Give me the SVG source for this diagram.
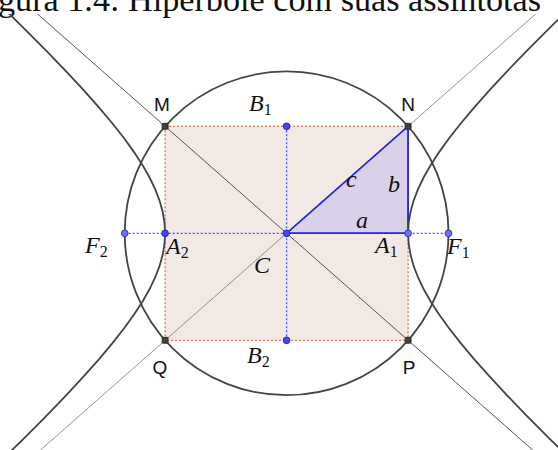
<svg xmlns="http://www.w3.org/2000/svg" xmlns:xlink="http://www.w3.org/1999/xlink" width="558" height="450" viewBox="0 0 558 450">
<style>
.cap{font-family:"Liberation Serif",serif;font-size:33px;fill:#111}
.pt{font-family:"Liberation Sans",Arial,sans-serif;font-size:19px;fill:#111;text-anchor:middle}
.it{font-family:"Liberation Serif",serif;font-style:italic;font-size:24px;fill:#111}
.sub{font-style:normal;font-size:16px}
.curve{fill:none;stroke:#444;stroke-width:1.8}
.dark{fill:#404040;stroke:#222;stroke-width:0.8}
.blue{fill:#4444ff;stroke:#1a1a80;stroke-width:0.8}
.lblue{fill:#6e6eff;stroke:#2a2a90;stroke-width:0.8}
</style>
<defs>
<clipPath id="fig"><rect x="0" y="14" width="558" height="436"/></clipPath>
<path id="branch" d="M285.82,-227.84 L261.33,-203.76 L239.46,-181.73 L220,-161.52 L202.72,-142.91 L187.49,-125.75 L174.12,-109.84 L162.49,-95.03 L152.51,-81.17 L144.04,-68.13 L137,-55.76 L131.35,-43.96 L127,-32.58 L123.94,-21.54 L122.11,-10.72 L121.5,0 L122.11,10.72 L123.94,21.54 L127,32.58 L131.35,43.96 L137,55.76 L144.04,68.13 L152.51,81.17 L162.49,95.03 L174.12,109.84 L187.49,125.75 L202.72,142.91 L220,161.52 L239.46,181.73 L261.33,203.76 L285.82,227.84"/>
</defs>
<rect width="558" height="450" fill="#fff"/>
<text class="cap" x="-2" y="11" textLength="543" lengthAdjust="spacingAndGlyphs">gura 1.4: Hiperbole com suas assintotas</text>
<g clip-path="url(#fig)">
<g transform="translate(286.6 233.3)">
<g id="rectangle">
<rect x="-121.5" y="-107" width="243" height="214" fill="#f2e9e4" stroke="#c87a55" stroke-width="1.3" stroke-dasharray="2 2"/>
</g>
<g id="triangle">
<polygon points="0,0 121.5,0 121.5,-107" fill="#d9d1e8" stroke="#2727e6" stroke-width="1.5" stroke-linejoin="round"/>
</g>
<g id="connectors">
<line x1="-300" y1="-264.2" x2="300" y2="264.2" stroke="#555" stroke-width="1"/>
<line x1="-300" y1="264.2" x2="300" y2="-264.2" stroke="#777" stroke-width="0.8"/>
<line x1="0" y1="0" x2="121.5" y2="-107" stroke="#2727e6" stroke-width="1.5"/>
<line x1="-161.9" y1="0" x2="161.9" y2="0" stroke="#5050ff" stroke-width="1.3" stroke-dasharray="2 2"/>
<line x1="0" y1="-107" x2="0" y2="107" stroke="#5050ff" stroke-width="1.3" stroke-dasharray="2 2"/>
<line x1="0" y1="0" x2="121.5" y2="0" stroke="#2727e6" stroke-width="1.5"/>
<line x1="121.5" y1="0" x2="121.5" y2="-107" stroke="#2727e6" stroke-width="1.5"/>
</g>
<g id="circle"><circle cx="0" cy="0" r="161.9" class="curve" stroke-width="1.6"/></g>
<g id="hyperbola">
<use xlink:href="#branch" class="curve"/>
<use xlink:href="#branch" class="curve" transform="scale(-1 1)"/>
</g>
<g id="M"><rect x="-124.5" y="-110" width="6" height="6" rx="1" class="dark"/></g>
<g id="N"><rect x="118.5" y="-110" width="6" height="6" rx="1" class="dark"/></g>
<g id="P"><rect x="118.5" y="104" width="6" height="6" rx="1" class="dark"/></g>
<g id="Q"><rect x="-124.5" y="104" width="6" height="6" rx="1" class="dark"/></g>
<g id="Cpt"><circle cx="0" cy="0" r="3.4" class="blue"/></g>
<g id="B1pt"><circle cx="0" cy="-107" r="3.4" class="blue"/></g>
<g id="B2pt"><circle cx="0" cy="107" r="3.4" class="blue"/></g>
<g id="A2pt"><circle cx="-121.5" cy="0" r="3.4" class="blue"/></g>
<g id="A1pt"><circle cx="121.5" cy="0" r="3.4" class="lblue"/></g>
<g id="F1pt"><circle cx="161.9" cy="0" r="3.4" class="lblue"/></g>
<g id="F2pt"><circle cx="-161.9" cy="0" r="3.4" class="lblue"/></g>
</g>
</g>
<g id="labels">
<text class="pt" x="162" y="111">M</text>
<text class="pt" x="408" y="111">N</text>
<text class="pt" x="160" y="374">Q</text>
<text class="pt" x="409" y="374">P</text>
<text class="it" x="249" y="111">B<tspan class="sub" dy="4">1</tspan></text>
<text class="it" x="247" y="363">B<tspan class="sub" dy="4">2</tspan></text>
<text class="it" x="254" y="273">C</text>
<text class="it" x="85" y="253">F<tspan class="sub" dy="4">2</tspan></text>
<text class="it" x="166" y="254">A<tspan class="sub" dy="4">2</tspan></text>
<text class="it" x="375" y="253">A<tspan class="sub" dy="4">1</tspan></text>
<text class="it" x="447" y="254">F<tspan class="sub" dy="4">1</tspan></text>
<text class="it" x="356" y="228">a</text>
<text class="it" x="388" y="192">b</text>
<text class="it" x="346" y="187">c</text>
</g>
</svg>
